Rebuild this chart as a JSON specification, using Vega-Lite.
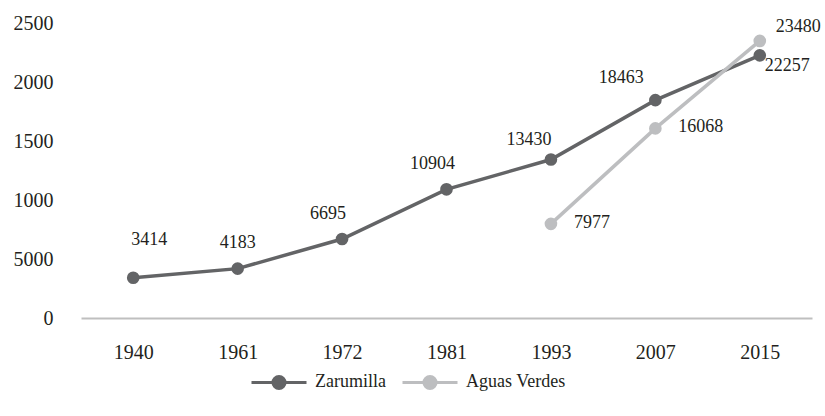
{
  "$schema": "https://vega.github.io/schema/vega-lite/v6.json",
  "width": 731,
  "height": 295,
  "autosize": "none",
  "padding": {"left": 81, "top": 23, "right": 13, "bottom": 98},
  "background": "white",
  "config": {
    "view": {"stroke": null},
    "font": "Liberation Serif",
    "legend": {"labelFont": "Liberation Serif"},
    "axis": {"labelFont": "Liberation Serif"}
  },
  "data": {
    "values": [
      {"year": "1940", "series": "Zarumilla", "population": 3414},
      {"year": "1961", "series": "Zarumilla", "population": 4183},
      {"year": "1972", "series": "Zarumilla", "population": 6695},
      {"year": "1981", "series": "Zarumilla", "population": 10904},
      {"year": "1993", "series": "Zarumilla", "population": 13430},
      {"year": "2007", "series": "Zarumilla", "population": 18463},
      {"year": "2015", "series": "Zarumilla", "population": 22257},
      {"year": "1993", "series": "Aguas Verdes", "population": 7977},
      {"year": "2007", "series": "Aguas Verdes", "population": 16068},
      {"year": "2015", "series": "Aguas Verdes", "population": 23480}
    ]
  },
  "encoding": {
    "x": {
      "field": "year",
      "type": "ordinal",
      "scale": {"type": "point", "padding": 0.5},
      "axis": {
        "title": null,
        "labelAngle": 0,
        "ticks": false,
        "domainColor": "#bfbfbf",
        "domainWidth": 2,
        "labelFont": "Liberation Serif",
        "labelFontSize": 20,
        "labelColor": "#231f20",
        "labelPadding": 24
      }
    },
    "y": {
      "field": "population",
      "type": "quantitative",
      "scale": {"domain": [0, 25000]},
      "axis": {
        "title": null,
        "values": [0, 5000, 10000, 15000, 20000, 25000],
        "labelExpr": "datum.value <= 5000 ? format(datum.value, 'd') : format(datum.value / 10, 'd')",
        "domain": false,
        "ticks": false,
        "grid": false,
        "labelFont": "Liberation Serif",
        "labelFontSize": 20,
        "labelColor": "#231f20",
        "labelPadding": 28
      }
    },
    "color": {
      "field": "series",
      "type": "nominal",
      "scale": {"domain": ["Zarumilla", "Aguas Verdes"], "range": ["#636466", "#bdbec0"]},
      "legend": {
        "title": null,
        "orient": "none",
        "direction": "horizontal",
        "legendX": 169,
        "legendY": 330,
        "symbolType": "M-1,0H1M0.22,0A0.22,0.22,0,1,1,-0.22,0A0.22,0.22,0,1,1,0.22,0Z",
        "symbolSize": 3025,
        "symbolStrokeWidth": 3,
        "labelFont": "Liberation Serif",
        "labelFontSize": 18,
        "labelColor": "#231f20",
        "labelOffset": 7,
        "columnPadding": 10
      }
    }
  },
  "layer": [
    {"mark": {"type": "line", "strokeWidth": 3.5}},
    {"mark": {"type": "point", "filled": true, "size": 160, "opacity": 1}},
    {
      "transform": [{"filter": "datum.series == 'Zarumilla' && datum.year == '1940'"}],
      "mark": {"type": "text", "font": "Liberation Serif", "fontSize": 18, "align": "center", "baseline": "middle", "dx": 16, "dy": -38},
      "encoding": {"text": {"field": "population"}, "color": {"value": "#231f20"}}
    },
    {
      "transform": [{"filter": "datum.series == 'Zarumilla' && datum.year == '1961'"}],
      "mark": {"type": "text", "font": "Liberation Serif", "fontSize": 18, "align": "center", "baseline": "middle", "dx": 0, "dy": -26},
      "encoding": {"text": {"field": "population"}, "color": {"value": "#231f20"}}
    },
    {
      "transform": [{"filter": "datum.series == 'Zarumilla' && (datum.year == '1972' || datum.year == '1981')"}],
      "mark": {"type": "text", "font": "Liberation Serif", "fontSize": 18, "align": "center", "baseline": "middle", "dx": -14, "dy": -25},
      "encoding": {"text": {"field": "population"}, "color": {"value": "#231f20"}}
    },
    {
      "transform": [{"filter": "datum.series == 'Zarumilla' && datum.year == '1993'"}],
      "mark": {"type": "text", "font": "Liberation Serif", "fontSize": 18, "align": "center", "baseline": "middle", "dx": -22, "dy": -20},
      "encoding": {"text": {"field": "population"}, "color": {"value": "#231f20"}}
    },
    {
      "transform": [{"filter": "datum.series == 'Zarumilla' && datum.year == '2007'"}],
      "mark": {"type": "text", "font": "Liberation Serif", "fontSize": 18, "align": "center", "baseline": "middle", "dx": -34, "dy": -22},
      "encoding": {"text": {"field": "population"}, "color": {"value": "#231f20"}}
    },
    {
      "transform": [{"filter": "datum.series == 'Zarumilla' && datum.year == '2015'"}],
      "mark": {"type": "text", "font": "Liberation Serif", "fontSize": 18, "align": "left", "baseline": "middle", "dx": 5, "dy": 11},
      "encoding": {"text": {"field": "population"}, "color": {"value": "#231f20"}}
    },
    {
      "transform": [{"filter": "datum.series == 'Aguas Verdes' && datum.year != '2015'"}],
      "mark": {"type": "text", "font": "Liberation Serif", "fontSize": 18, "align": "left", "baseline": "middle", "dx": 23, "dy": -1},
      "encoding": {"text": {"field": "population"}, "color": {"value": "#231f20"}}
    },
    {
      "transform": [{"filter": "datum.series == 'Aguas Verdes' && datum.year == '2015'"}],
      "mark": {"type": "text", "font": "Liberation Serif", "fontSize": 18, "align": "left", "baseline": "middle", "dx": 16, "dy": -14},
      "encoding": {"text": {"field": "population"}, "color": {"value": "#231f20"}}
    }
  ]
}
